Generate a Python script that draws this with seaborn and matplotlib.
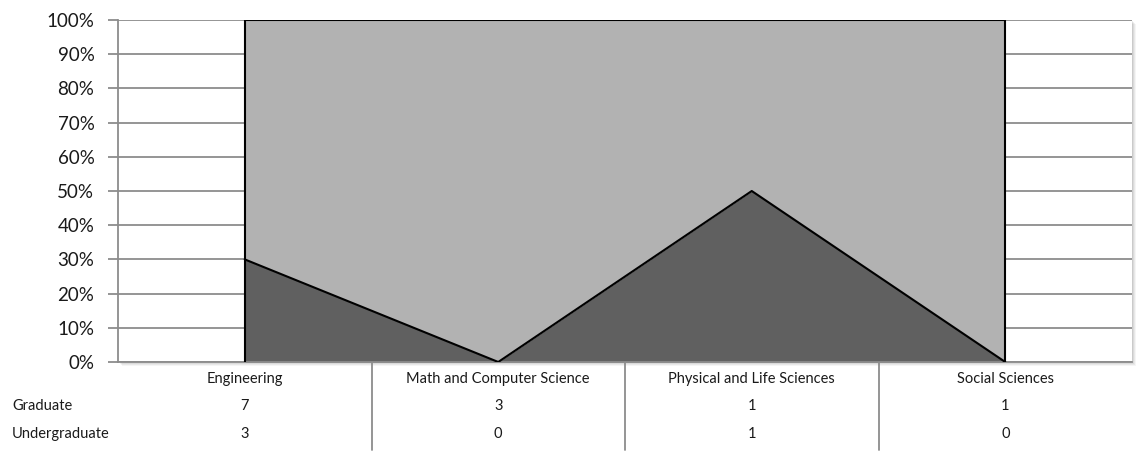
import numpy as np
import pandas as pd
import matplotlib
matplotlib.use("Agg")
import matplotlib.pyplot as plt
import matplotlib.transforms as mtransforms
from matplotlib.patches import Rectangle
import seaborn as sns

categories = ["Engineering", "Math and Computer Science",
              "Physical and Life Sciences", "Social Sciences"]
graduate = [7, 3, 1, 1]
undergraduate = [3, 0, 1, 0]
yticks = [0, 10, 20, 30, 40, 50, 60, 70, 80, 90, 100]

sns.set_style("white")
plt.rcParams["font.family"] = ["Lato", "DejaVu Sans"]

df = pd.DataFrame({"cat": categories, "Graduate": graduate, "Undergraduate": undergraduate})
df["x"] = np.arange(len(df))
tot = df["Graduate"] + df["Undergraduate"]
df["under_pct"] = df["Undergraduate"] / tot * 100
df["top_pct"] = 100.0

W, H = 1136, 454
fig = plt.figure(figsize=(W / 100, H / 100), dpi=100)
x0, x1, y0, y1 = 118, 1132, 20, 362
ax = fig.add_axes([x0 / W, (H - y1) / H, (x1 - x0) / W, (y1 - y0) / H])
ax.set_zorder(5)
ax.set_facecolor("white")

# soft shadow of the plot area (right and bottom), drawn behind the axes
for k, a in zip([4, 3, 2, 1], [0.04, 0.05, 0.06, 0.07]):
    fig.patches.append(Rectangle(((x0 + k) / W, (H - y1 - k) / H), (x1 - x0) / W, (y1 - y0) / H,
                                 transform=fig.transFigure, color="black", alpha=a, lw=0, zorder=0))

# 100% stacked areas
ax.fill_between(df["x"], 0, df["under_pct"], color="#606060", lw=0, zorder=2)
ax.fill_between(df["x"], df["under_pct"], df["top_pct"], color="#b2b2b2", lw=0, zorder=2)

# black outlines of the series
sns.lineplot(data=df, x="x", y="under_pct", color="black", lw=1.5, ax=ax, zorder=3)
sns.lineplot(data=df, x="x", y="top_pct", color="black", lw=1.5, ax=ax, zorder=3)
for xi in [df["x"].iloc[0], df["x"].iloc[-1]]:
    ax.plot([xi, xi], [0, 100], color="black", lw=1.5, zorder=3)

ax.set_xlim(-0.5, len(categories) - 0.5)
ax.set_ylim(0, 100)
ax.set_yticks(yticks)
ax.set_yticklabels([f"{v}%" for v in yticks], fontsize=13.5, color="#1a1a1a")
ax.yaxis.grid(True, color="#8c8c8c", lw=1.3, zorder=1)
ax.set_axisbelow(True)
ax.tick_params(axis="y", length=7, width=1.3, color="#8c8c8c", direction="out", pad=10, left=True)
ax.set_xticks([])
ax.set_xlabel("")
ax.set_ylabel("")
for s in ["top", "right"]:
    ax.spines[s].set_visible(False)
ax.spines["left"].set_color("#8c8c8c")
ax.spines["left"].set_linewidth(1.3)
ax.spines["bottom"].set_color("#8c8c8c")
ax.spines["bottom"].set_linewidth(1.3)

# data table under the chart
trans = mtransforms.blended_transform_factory(ax.transData, fig.transFigure)
row_y = {"cat": 1 - 379 / H, "Graduate": 1 - 406 / H, "Undergraduate": 1 - 434 / H}
fs = 10.5
for i, c in enumerate(categories):
    ax.text(i, row_y["cat"], c, transform=trans, ha="center", va="center", fontsize=fs, color="#1a1a1a")
    ax.text(i, row_y["Graduate"], str(graduate[i]), transform=trans, ha="center", va="center",
            fontsize=fs, color="#1a1a1a")
    ax.text(i, row_y["Undergraduate"], str(undergraduate[i]), transform=trans, ha="center",
            va="center", fontsize=fs, color="#1a1a1a")
fig.text(12 / W, row_y["Graduate"], "Graduate", ha="left", va="center", fontsize=fs, color="#1a1a1a")
fig.text(12 / W, row_y["Undergraduate"], "Undergraduate", ha="left", va="center", fontsize=fs,
         color="#1a1a1a")
for i in range(len(categories) - 1):
    ax.plot([i + 0.5, i + 0.5], [1 - 363 / H, 1 - 450 / H], transform=trans, color="#8c8c8c",
            lw=1.3, clip_on=False)

fig.savefig("out.png", dpi=100)
